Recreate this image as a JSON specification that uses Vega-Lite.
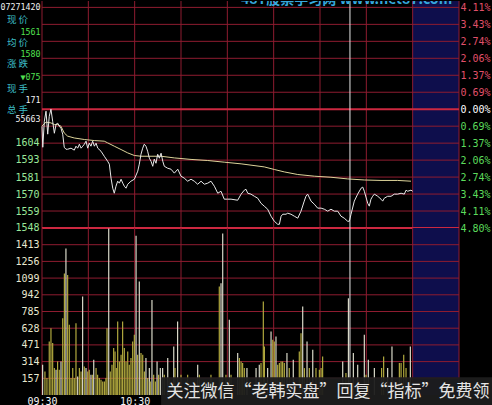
{
  "$schema": "https://vega.github.io/schema/vega-lite/v6.json",
  "background": "#000000",
  "padding": 0,
  "spacing": 0,
  "bounds": "flush",
  "config": {
    "view": {"stroke": null},
    "axis": {"grid": false, "ticks": false, "domain": false, "labelFont": "DejaVu Sans Mono", "labelFontSize": 10}
  },
  "datasets": {
    "zone": [{"t0": 240, "t1": 270}],
    "vgrid": [{"t": 0}, {"t": 30}, {"t": 60}, {"t": 90}, {"t": 120}, {"t": 150}, {"t": 180}, {"t": 210}, {"t": 240}, {"t": 270}],
    "pgrid": [{"p": 1692.9}, {"p": 1681.75}, {"p": 1670.6}, {"p": 1659.45}, {"p": 1648.3}, {"p": 1637.15}, {"p": 1614.85}, {"p": 1603.7}, {"p": 1592.55}, {"p": 1581.4}, {"p": 1570.25}, {"p": 1559.1}],
    "pthick": [{"p": 1626}, {"p": 1547.95}],
    "vgridv": [{"v": 157}, {"v": 314}, {"v": 471}, {"v": 628}, {"v": 785}, {"v": 942}, {"v": 1099}, {"v": 1256}, {"v": 1413}],
    "info_l": [
      {"s": "现 价", "p": 1684.9}, {"s": "均 价", "p": 1669.6}, {"s": "涨 跌", "p": 1655.4}, {"s": "现 手", "p": 1639.6}, {"s": "总 手", "p": 1625.8}
    ],
    "info_n": [
      {"s": "07271420", "p": 1692.6, "k": "w"}, {"s": "1561", "p": 1676.1, "k": "g"}, {"s": "1580", "p": 1661.9, "k": "g"},
      {"s": "▼075", "p": 1646.6, "k": "g"}, {"s": "171", "p": 1631.7, "k": "w"}, {"s": "55663", "p": 1618.6, "k": "w"}
    ],
    "avg": [
      {"t": 0, "p": 1615.0}, {"t": 2.6, "p": 1617.5}, {"t": 5.8, "p": 1617.0}, {"t": 8.0, "p": 1615.9}, {"t": 10.2, "p": 1615.9}, {"t": 12.3, "p": 1614.8},
      {"t": 14.4, "p": 1610.4}, {"t": 16.6, "p": 1608.3}, {"t": 20.9, "p": 1607.1}, {"t": 27.4, "p": 1606.1}, {"t": 33.9, "p": 1605.4},
      {"t": 40.3, "p": 1605.0}, {"t": 42.5, "p": 1603.9}, {"t": 46.8, "p": 1601.7}, {"t": 51.2, "p": 1599.5}, {"t": 55.5, "p": 1597.3},
      {"t": 59.8, "p": 1595.6}, {"t": 64.1, "p": 1595.1}, {"t": 70.6, "p": 1595.1}, {"t": 77.1, "p": 1595.1}, {"t": 85.7, "p": 1594.0},
      {"t": 96.5, "p": 1593.0}, {"t": 107.3, "p": 1592.3}, {"t": 118.0, "p": 1591.2}, {"t": 128.9, "p": 1590.1}, {"t": 143.9, "p": 1588.1},
      {"t": 150.4, "p": 1586.4}, {"t": 156.9, "p": 1584.8}, {"t": 165.6, "p": 1583.1}, {"t": 176.3, "p": 1582.0}, {"t": 187.1, "p": 1581.3},
      {"t": 197.9, "p": 1580.2}, {"t": 208.7, "p": 1579.5}, {"t": 219.5, "p": 1579.2}, {"t": 230.3, "p": 1579.2}, {"t": 238.9, "p": 1578.7}
    ],
    "price": [
      {"t": 0, "p": 1614.8}, {"t": 0.5, "p": 1601.0}, {"t": 1.5, "p": 1618.1}, {"t": 2.6, "p": 1624.7}, {"t": 3.7, "p": 1609.6}, {"t": 4.7, "p": 1621.4},
      {"t": 5.8, "p": 1626.0}, {"t": 6.9, "p": 1618.1}, {"t": 8.0, "p": 1610.2}, {"t": 9.1, "p": 1616.1}, {"t": 10.2, "p": 1616.8}, {"t": 11.2, "p": 1614.8},
      {"t": 12.3, "p": 1613.5}, {"t": 13.4, "p": 1609.6}, {"t": 14.4, "p": 1601.0}, {"t": 15.5, "p": 1599.7}, {"t": 16.6, "p": 1599.7}, {"t": 18.8, "p": 1600.4},
      {"t": 20.9, "p": 1599.1}, {"t": 22.0, "p": 1601.7}, {"t": 23.1, "p": 1600.4}, {"t": 24.2, "p": 1603.0}, {"t": 25.3, "p": 1600.4}, {"t": 26.4, "p": 1601.7},
      {"t": 27.4, "p": 1603.0}, {"t": 28.5, "p": 1605.0}, {"t": 29.6, "p": 1600.4}, {"t": 30.6, "p": 1603.7}, {"t": 31.7, "p": 1601.7}, {"t": 32.8, "p": 1605.0},
      {"t": 33.9, "p": 1601.7}, {"t": 35.0, "p": 1603.7}, {"t": 36.1, "p": 1600.4}, {"t": 38.2, "p": 1598.4}, {"t": 40.3, "p": 1595.1}, {"t": 42.5, "p": 1591.8},
      {"t": 43.6, "p": 1589.9}, {"t": 44.7, "p": 1580.7}, {"t": 45.8, "p": 1574.1}, {"t": 46.8, "p": 1570.8}, {"t": 47.9, "p": 1575.4}, {"t": 49.0, "p": 1578.7},
      {"t": 50.1, "p": 1577.4}, {"t": 51.2, "p": 1580.0}, {"t": 52.3, "p": 1577.4}, {"t": 53.3, "p": 1575.4}, {"t": 54.4, "p": 1574.1}, {"t": 55.5, "p": 1576.7},
      {"t": 57.6, "p": 1578.7}, {"t": 59.8, "p": 1580.0}, {"t": 62.0, "p": 1585.3}, {"t": 63.0, "p": 1589.9}, {"t": 64.1, "p": 1596.4}, {"t": 65.2, "p": 1600.4},
      {"t": 66.2, "p": 1603.0}, {"t": 67.3, "p": 1601.7}, {"t": 68.4, "p": 1598.4}, {"t": 69.5, "p": 1593.8}, {"t": 70.6, "p": 1591.8}, {"t": 71.7, "p": 1588.5},
      {"t": 72.7, "p": 1593.2}, {"t": 73.8, "p": 1590.5}, {"t": 74.9, "p": 1596.4}, {"t": 76.0, "p": 1593.8}, {"t": 77.1, "p": 1597.1}, {"t": 78.2, "p": 1591.8},
      {"t": 79.2, "p": 1588.5}, {"t": 81.4, "p": 1587.2}, {"t": 83.5, "p": 1586.6}, {"t": 85.7, "p": 1584.0}, {"t": 87.9, "p": 1586.6}, {"t": 90.0, "p": 1582.0},
      {"t": 92.1, "p": 1580.7}, {"t": 94.3, "p": 1578.7}, {"t": 96.5, "p": 1580.0}, {"t": 98.6, "p": 1578.7}, {"t": 100.8, "p": 1576.7}, {"t": 103.0, "p": 1578.7},
      {"t": 105.1, "p": 1576.7}, {"t": 107.3, "p": 1577.4}, {"t": 109.4, "p": 1578.7}, {"t": 111.6, "p": 1575.4}, {"t": 113.8, "p": 1570.8}, {"t": 115.9, "p": 1572.1},
      {"t": 118.0, "p": 1566.9}, {"t": 120.2, "p": 1566.9}, {"t": 122.4, "p": 1566.9}, {"t": 126.7, "p": 1566.2}, {"t": 128.9, "p": 1570.2}, {"t": 131.0, "p": 1572.8},
      {"t": 132.1, "p": 1573.4}, {"t": 133.2, "p": 1570.8}, {"t": 135.3, "p": 1570.2}, {"t": 137.5, "p": 1568.8}, {"t": 139.7, "p": 1567.5}, {"t": 141.8, "p": 1564.2},
      {"t": 143.9, "p": 1562.3}, {"t": 146.1, "p": 1560.3}, {"t": 148.3, "p": 1555.7}, {"t": 150.4, "p": 1552.4}, {"t": 152.6, "p": 1550.4}, {"t": 153.7, "p": 1550.4},
      {"t": 154.8, "p": 1555.7}, {"t": 155.9, "p": 1557.0}, {"t": 158.0, "p": 1557.0}, {"t": 159.1, "p": 1557.7}, {"t": 161.2, "p": 1557.0}, {"t": 163.4, "p": 1555.7},
      {"t": 165.6, "p": 1554.4}, {"t": 167.7, "p": 1559.0}, {"t": 169.8, "p": 1565.6}, {"t": 170.9, "p": 1568.8}, {"t": 172.0, "p": 1570.2}, {"t": 174.2, "p": 1565.6},
      {"t": 176.3, "p": 1563.6}, {"t": 178.5, "p": 1561.0}, {"t": 180.7, "p": 1561.0}, {"t": 182.8, "p": 1560.3}, {"t": 185.0, "p": 1559.0}, {"t": 187.1, "p": 1560.3},
      {"t": 189.3, "p": 1559.0}, {"t": 191.5, "p": 1559.0}, {"t": 193.6, "p": 1555.7}, {"t": 195.7, "p": 1554.4}, {"t": 197.9, "p": 1552.4}, {"t": 199.0, "p": 1552.4},
      {"t": 200.1, "p": 1557.0}, {"t": 202.2, "p": 1565.6}, {"t": 204.4, "p": 1570.2}, {"t": 206.6, "p": 1574.1}, {"t": 207.7, "p": 1574.8}, {"t": 208.7, "p": 1572.1},
      {"t": 210.9, "p": 1564.2}, {"t": 211.9, "p": 1562.3}, {"t": 213.0, "p": 1566.9}, {"t": 214.1, "p": 1568.8}, {"t": 215.2, "p": 1570.2}, {"t": 217.4, "p": 1568.8},
      {"t": 219.5, "p": 1566.9}, {"t": 220.6, "p": 1565.6}, {"t": 221.6, "p": 1567.5}, {"t": 223.8, "p": 1568.8}, {"t": 226.0, "p": 1568.8}, {"t": 228.1, "p": 1570.2},
      {"t": 230.3, "p": 1570.2}, {"t": 232.5, "p": 1570.8}, {"t": 234.6, "p": 1570.2}, {"t": 235.7, "p": 1572.8}, {"t": 236.8, "p": 1572.1}, {"t": 238.9, "p": 1572.8},
      {"t": 240.0, "p": 1572.1}
    ],
    "vol": [
      {"t": 0.4, "v": 285, "c": "b"}, {"t": 1.9, "v": 222, "c": "s"}, {"t": 3.2, "v": 160, "c": "s"}, {"t": 4.7, "v": 503, "c": "s"}, {"t": 5.8, "v": 628, "c": "s"},
      {"t": 6.9, "v": 488, "c": "s"}, {"t": 8.0, "v": 253, "c": "s"}, {"t": 9.1, "v": 238, "c": "b"}, {"t": 10.1, "v": 316, "c": "s"}, {"t": 11.2, "v": 238, "c": "s"},
      {"t": 12.3, "v": 316, "c": "b"}, {"t": 13.4, "v": 722, "c": "s"}, {"t": 14.5, "v": 1143, "c": "s"}, {"t": 15.5, "v": 1378, "c": "b"}, {"t": 16.6, "v": 1128, "c": "s"},
      {"t": 17.7, "v": 660, "c": "s"}, {"t": 18.8, "v": 160, "c": "s"}, {"t": 19.9, "v": 253, "c": "s"}, {"t": 20.9, "v": 160, "c": "s"}, {"t": 22.0, "v": 675, "c": "s"},
      {"t": 23.1, "v": 175, "c": "b"}, {"t": 24.2, "v": 253, "c": "s"}, {"t": 25.3, "v": 222, "c": "s"}, {"t": 26.3, "v": 925, "c": "b"}, {"t": 27.4, "v": 269, "c": "s"},
      {"t": 28.5, "v": 253, "c": "b"}, {"t": 29.6, "v": 222, "c": "s"}, {"t": 30.6, "v": 238, "c": "s"}, {"t": 31.7, "v": 191, "c": "b"}, {"t": 32.8, "v": 191, "c": "s"},
      {"t": 33.5, "v": 331, "c": "b"}, {"t": 35.0, "v": 253, "c": "s"}, {"t": 36.0, "v": 191, "c": "s"}, {"t": 37.1, "v": 160, "c": "s"}, {"t": 38.2, "v": 144, "c": "s"},
      {"t": 39.3, "v": 128, "c": "s"}, {"t": 40.4, "v": 128, "c": "s"}, {"t": 41.4, "v": 160, "c": "s"}, {"t": 42.1, "v": 628, "c": "s"}, {"t": 43.2, "v": 1565, "c": "b"},
      {"t": 44.2, "v": 222, "c": "s"}, {"t": 45.3, "v": 285, "c": "s"}, {"t": 46.4, "v": 441, "c": "s"}, {"t": 47.3, "v": 410, "c": "s"}, {"t": 48.1, "v": 253, "c": "s"},
      {"t": 49.0, "v": 691, "c": "s"}, {"t": 50.1, "v": 316, "c": "s"}, {"t": 51.2, "v": 379, "c": "s"}, {"t": 52.2, "v": 691, "c": "s"}, {"t": 53.3, "v": 441, "c": "s"},
      {"t": 54.4, "v": 316, "c": "s"}, {"t": 55.5, "v": 410, "c": "s"}, {"t": 56.5, "v": 285, "c": "s"}, {"t": 57.6, "v": 347, "c": "s"}, {"t": 58.7, "v": 503, "c": "s"},
      {"t": 59.8, "v": 566, "c": "s"}, {"t": 60.9, "v": 1497, "c": "b"}, {"t": 61.9, "v": 379, "c": "s"}, {"t": 63.0, "v": 1066, "c": "b"}, {"t": 64.1, "v": 394, "c": "s"},
      {"t": 65.2, "v": 379, "c": "s"}, {"t": 66.3, "v": 222, "c": "s"}, {"t": 67.3, "v": 347, "c": "b"}, {"t": 68.4, "v": 160, "c": "s"}, {"t": 69.5, "v": 253, "c": "b"},
      {"t": 70.1, "v": 128, "c": "s"}, {"t": 71.2, "v": 894, "c": "b"}, {"t": 72.3, "v": 191, "c": "s"}, {"t": 73.4, "v": 128, "c": "s"}, {"t": 74.5, "v": 316, "c": "b"},
      {"t": 75.5, "v": 191, "c": "s"}, {"t": 76.6, "v": 253, "c": "b"}, {"t": 78.1, "v": 253, "c": "b"}, {"t": 79.2, "v": 191, "c": "s"}, {"t": 81.4, "v": 347, "c": "b"},
      {"t": 82.4, "v": 160, "c": "s"}, {"t": 85.3, "v": 456, "c": "b"}, {"t": 86.1, "v": 253, "c": "s"}, {"t": 87.8, "v": 691, "c": "b"}, {"t": 90.0, "v": 191, "c": "s"},
      {"t": 94.3, "v": 191, "c": "s"}, {"t": 100.8, "v": 285, "c": "b"}, {"t": 101.9, "v": 191, "c": "s"}, {"t": 109.4, "v": 191, "c": "s"}, {"t": 114.8, "v": 1019, "c": "s"},
      {"t": 115.9, "v": 1050, "c": "b"}, {"t": 117.0, "v": 1518, "c": "b"}, {"t": 119.1, "v": 191, "c": "s"}, {"t": 121.3, "v": 707, "c": "b"}, {"t": 122.4, "v": 191, "c": "s"},
      {"t": 126.7, "v": 394, "c": "b"}, {"t": 127.8, "v": 347, "c": "s"}, {"t": 128.9, "v": 316, "c": "s"}, {"t": 129.9, "v": 300, "c": "s"}, {"t": 131.0, "v": 253, "c": "s"},
      {"t": 132.7, "v": 253, "c": "b"}, {"t": 138.6, "v": 253, "c": "b"}, {"t": 140.7, "v": 285, "c": "b"}, {"t": 141.8, "v": 300, "c": "s"}, {"t": 143.3, "v": 878, "c": "s"},
      {"t": 144.0, "v": 456, "c": "s"}, {"t": 146.1, "v": 253, "c": "b"}, {"t": 148.3, "v": 597, "c": "b"}, {"t": 149.4, "v": 519, "c": "s"}, {"t": 150.4, "v": 503, "c": "s"},
      {"t": 151.5, "v": 550, "c": "b"}, {"t": 152.6, "v": 285, "c": "s"}, {"t": 153.7, "v": 300, "c": "s"}, {"t": 154.8, "v": 316, "c": "s"}, {"t": 155.8, "v": 316, "c": "s"},
      {"t": 156.9, "v": 300, "c": "s"}, {"t": 158.6, "v": 394, "c": "b"}, {"t": 160.1, "v": 253, "c": "s"}, {"t": 162.7, "v": 331, "c": "b"}, {"t": 166.6, "v": 410, "c": "s"},
      {"t": 167.7, "v": 581, "c": "s"}, {"t": 168.8, "v": 831, "c": "b"}, {"t": 169.9, "v": 253, "c": "s"}, {"t": 171.6, "v": 503, "c": "b"}, {"t": 173.1, "v": 253, "c": "s"},
      {"t": 175.3, "v": 425, "c": "b"}, {"t": 177.4, "v": 253, "c": "s"}, {"t": 179.6, "v": 238, "c": "s"}, {"t": 180.7, "v": 253, "c": "s"}, {"t": 181.7, "v": 363, "c": "s"},
      {"t": 194.7, "v": 316, "c": "b"}, {"t": 196.8, "v": 206, "c": "s"}, {"t": 198.4, "v": 909, "c": "b"}, {"t": 201.6, "v": 394, "c": "b"}, {"t": 204.4, "v": 285, "c": "b"},
      {"t": 208.7, "v": 566, "c": "b"}, {"t": 209.8, "v": 191, "c": "s"}, {"t": 211.3, "v": 331, "c": "b"}, {"t": 215.2, "v": 253, "c": "b"}, {"t": 219.9, "v": 253, "c": "s"},
      {"t": 221.2, "v": 363, "c": "s"}, {"t": 223.8, "v": 253, "c": "b"}, {"t": 226.6, "v": 456, "c": "b"}, {"t": 231.4, "v": 300, "c": "s"}, {"t": 232.5, "v": 300, "c": "s"},
      {"t": 234.2, "v": 379, "c": "s"}, {"t": 235.7, "v": 253, "c": "s"}, {"t": 238.5, "v": 456, "c": "b"}
    ]
  },
  "vconcat": [
    {
      "width": 417,
      "height": 227,
      "resolve": {"axis": {"x": "independent", "y": "independent"}},
      "layer": [
        {
          "data": {"name": "zone"},
          "mark": {"type": "rect", "color": "#0e0e4c"},
          "encoding": {
            "x": {"field": "t0", "type": "quantitative", "scale": {"domain": [0, 270], "nice": false, "zero": false}, "axis": null},
            "x2": {"field": "t1"}
          }
        },
        {
          "data": {"name": "vgrid"},
          "mark": {"type": "rule", "color": "#8e1c30", "strokeWidth": 1},
          "encoding": {"x": {"field": "t", "type": "quantitative", "axis": null}}
        },
        {
          "data": {"name": "pgrid"},
          "mark": {"type": "rule", "color": "#8e1c30", "strokeWidth": 1},
          "encoding": {
            "y": {
              "field": "p", "type": "quantitative",
              "scale": {"domain": [1547.95, 1697.1], "nice": false, "zero": false},
              "axis": {"orient": "left", "values": [1604, 1593, 1581, 1570, 1559, 1548], "format": "d", "labelColor": "#9ae89a", "labelPadding": 3, "minExtent": 41, "maxExtent": 41, "title": null}
            }
          }
        },
        {
          "data": {"name": "pthick"},
          "mark": {"type": "rule", "color": "#cc2840", "strokeWidth": 2},
          "encoding": {
            "y": {
              "field": "p", "type": "quantitative",
              "axis": {
                "orient": "right",
                "values": [1692.9, 1681.75, 1670.6, 1659.45, 1648.3, 1637.15, 1626, 1614.85, 1603.7, 1592.55, 1581.4, 1570.25, 1559.1, 1547.95],
                "labelExpr": "format(abs(datum.value / 1626 - 1) * 100, '.2f') + '%'",
                "labelColor": {"condition": [{"test": "datum.value > 1627", "value": "#e0506a"}, {"test": "datum.value > 1625", "value": "#ffffff"}], "value": "#5cdc5c"},
                "labelPadding": 1, "labelAlign": "left", "minExtent": 34, "maxExtent": 34, "title": null
              }
            }
          }
        },
        {
          "data": {"name": "avg"},
          "mark": {"type": "line", "color": "#ddd49a", "strokeWidth": 1},
          "encoding": {
            "x": {"field": "t", "type": "quantitative", "axis": null},
            "y": {"field": "p", "type": "quantitative", "axis": null}
          }
        },
        {
          "data": {"name": "price"},
          "mark": {"type": "line", "color": "#e8e8e8", "strokeWidth": 1},
          "encoding": {
            "x": {"field": "t", "type": "quantitative", "axis": null},
            "y": {"field": "p", "type": "quantitative", "axis": null}
          }
        },
        {
          "data": {"values": [{}]},
          "mark": {"type": "rule", "color": "#e8e8e8", "strokeWidth": 1},
          "encoding": {"x": {"datum": 199.4, "type": "quantitative", "axis": null}}
        },
        {
          "data": {"values": [{}]},
          "mark": {"type": "text", "text": "48T股票学习网 www.net87.com", "align": "left", "baseline": "alphabetic", "font": "Noto Sans CJK SC", "fontSize": 14, "fontWeight": "bold", "color": "#36a8dc", "clip": true},
          "encoding": {
            "x": {"datum": 128.9, "type": "quantitative", "axis": null},
            "y": {"datum": 1695.3, "type": "quantitative", "axis": null}
          }
        },
        {
          "data": {"name": "info_l"},
          "mark": {"type": "text", "align": "left", "baseline": "middle", "font": "Noto Sans CJK SC", "fontSize": 9.5, "color": "#3cbcc4"},
          "encoding": {
            "x": {"datum": -22.7, "type": "quantitative", "axis": null},
            "y": {"field": "p", "type": "quantitative", "axis": null},
            "text": {"field": "s"}
          }
        },
        {
          "data": {"name": "info_n"},
          "mark": {"type": "text", "align": "right", "baseline": "middle", "font": "DejaVu Sans Mono", "fontSize": 8.3},
          "encoding": {
            "x": {"datum": -1.0, "type": "quantitative", "axis": null},
            "y": {"field": "p", "type": "quantitative", "axis": null},
            "text": {"field": "s"},
            "color": {"condition": {"test": "datum.k == 'g'", "value": "#50e050"}, "value": "#f0f0f0"}
          }
        }
      ]
    },
    {
      "width": 417,
      "height": 167,
      "resolve": {"axis": {"x": "independent", "y": "independent"}},
      "layer": [
        {
          "data": {"name": "zone"},
          "mark": {"type": "rect", "color": "#0e0e4c"},
          "encoding": {
            "x": {"field": "t0", "type": "quantitative", "scale": {"domain": [0, 270], "nice": false, "zero": false}, "axis": null},
            "x2": {"field": "t1"}
          }
        },
        {
          "data": {"name": "vgrid"},
          "mark": {"type": "rule", "color": "#8e1c30", "strokeWidth": 1},
          "encoding": {"x": {"field": "t", "type": "quantitative", "axis": null}}
        },
        {
          "data": {"name": "vgridv"},
          "mark": {"type": "rule", "color": "#8e1c30", "strokeWidth": 1},
          "encoding": {
            "y": {
              "field": "v", "type": "quantitative",
              "scale": {"domain": [0, 1570], "nice": false, "zero": false},
              "axis": {"orient": "left", "values": [157, 314, 471, 628, 785, 942, 1099, 1256, 1413], "format": "d", "labelColor": "#e8e8d0", "labelPadding": 3, "minExtent": 41, "maxExtent": 41, "title": null}
            }
          }
        },
        {
          "data": {"name": "vol"},
          "mark": {"type": "rule", "strokeWidth": 1.2},
          "encoding": {
            "x": {
              "field": "t", "type": "quantitative",
              "axis": {"orient": "bottom", "values": [0, 60], "labelExpr": "datum.value == 0 ? '09:30' : '10:30'", "labelColor": "#f4f4f4", "labelPadding": 1, "labelBaseline": "top", "labelFontSize": 10, "labelFlush": false, "title": null}
            },
            "y": {"field": "v", "type": "quantitative", "axis": null},
            "y2": {"datum": 0},
            "color": {"condition": {"test": "datum.c == 'b'", "value": "#d8d8c8"}, "value": "#b0a83e"}
          }
        },
        {
          "data": {"values": [{}]},
          "mark": {"type": "rule", "color": "#e8e8e8", "strokeWidth": 1},
          "encoding": {"x": {"datum": 199.4, "type": "quantitative", "axis": null}}
        },
        {
          "data": {"values": [{}]},
          "mark": {"type": "rect", "color": "#1c1c1c", "opacity": 0.95},
          "encoding": {
            "x": {"datum": 77.1, "type": "quantitative", "axis": null},
            "x2": {"datum": 292},
            "y": {"datum": 166, "type": "quantitative", "axis": null},
            "y2": {"datum": -115}
          }
        },
        {
          "data": {"values": [{}]},
          "mark": {"type": "text", "text": "关注微信“老韩实盘”回复“指标”免费领", "align": "center", "baseline": "middle", "font": "Noto Sans CJK SC", "fontSize": 17, "color": "#e4e4e4"},
          "encoding": {
            "x": {"datum": 185.2, "type": "quantitative", "axis": null},
            "y": {"datum": 25, "type": "quantitative", "axis": null}
          }
        }
      ]
    }
  ]
}
